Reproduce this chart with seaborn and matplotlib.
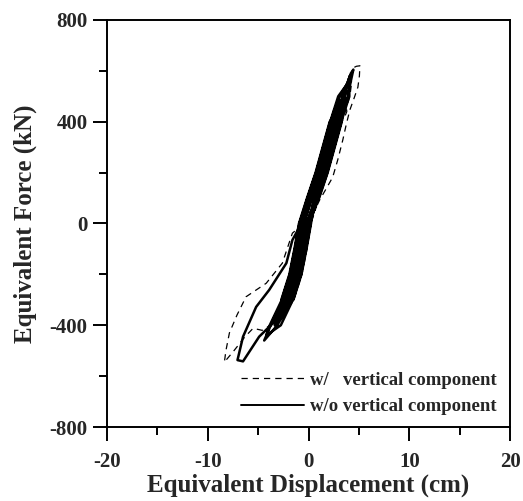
import matplotlib
matplotlib.use("Agg")
import matplotlib.pyplot as plt
import pandas as pd
import seaborn as sns

# hysteresis loop, w/ vertical component (dashed)
disp_w = [0.0, -0.1, 0.8, 1.6, 2.25, 1.2, 0.3, -0.5, -1.0, -1.5, -1.8, -0.9, -0.4, 0.05,
          0.6, 1.1, 1.8, 2.4, 2.9, 3.4, 3.75, 4.1, 4.5, 4.9, 5.05, 5.1, 4.75, 4.4, 4.0, 3.6,
          3.15, 2.8, 2.1, 1.4, 0.55, -0.25, -0.75, -1.25, -2.05, -2.9, -2.2, -1.5, -0.7, -0.2, 0.2,
          1.0, 1.8, 2.55, 3.25, 3.5, 3.8, 3.75, 3.45, 2.6, 1.9, 1.2, 0.35, -0.45, -1.6, -2.6,
          -4.2, -6.2, -7.1, -7.85, -8.2, -8.35, -7.4, -6.3, -5.5, -4.6, -3.6, -2.6, -1.4, -0.7,
          -0.2, 0.2,
          1.0, 1.85, 2.6, 3.3, 3.75, 3.0, 2.5, 1.75, 1.05, 0.2, -0.6, -1.05, -1.6, -2.4, -3.4,
          -2.8, -1.45, -0.65, -0.15, 0.25,
          1.05, 1.9, 2.6, 3.3, 4.1, 4.3, 3.3, 2.1, 1.4, 0.7, -0.15, -0.95, -1.4, -1.9, -2.7,
          -3.0, -1.5, -0.7, -0.2, 0.2,
          0.7, 1.2, 0.6, 0.1, -0.6, -1.0, -0.6, 0.0]
force_w = [0, 0, 100, 200, 300, 200, 100, 0, -100, -200, -250, -200, -100, 0,
           50, 92, 140, 182, 250, 328, 390, 446, 490, 536, 580, 620, 618, 611, 560, 500,
           450, 400, 300, 200, 100, 0, -100, -200, -300, -370, -340, -300, -200, -100, 0,
           100, 200, 300, 400, 410, 440, 458, 430, 400, 300, 200, 100, 0, -38, -156,
           -235, -288, -360, -430, -500, -545, -500, -445, -412, -420, -395, -330, -250, -150,
           -50, 0,
           100, 200, 300, 400, 480, 450, 400, 300, 200, 100, 0, -100, -200, -300, -410,
           -380, -300, -200, -100, 0,
           100, 200, 300, 400, 500, 560, 500, 400, 300, 200, 100, 0, -100, -200, -300,
           -350, -300, -200, -100, 0,
           100, 160, 130, 100, 0, -100, -100, 0]

# hysteresis loop, w/o vertical component (solid)
disp_wo = [0.0, -0.15, 0.65, 1.35, 0.25, -0.55, -1.0, -1.1, -0.6, -0.15,
           0.8, 1.65, 2.35, 2.45, 1.65, 0.95, 0.1, -0.7, -1.15, -1.65, -2.15, -1.45, -0.95, -0.45, 0.0,
           0.95, 1.8, 2.5, 3.2, 3.6, 3.55, 2.6, 2.2, 1.5, 0.8, -0.05, -0.85, -1.3, -1.8, -2.6, -3.2,
           -3.35, -2.7, -1.6, -0.8, -0.3, 0.15,
           0.85, 1.7, 2.4, 3.1, 3.9, 4.2, 4.45, 4.2, 3.9, 3.7, 3.1, 2.3, 1.6, 0.9, 0.05, -0.75,
           -1.2, -1.7, -2.5, -2.75, -2.0, -1.7, -0.9, -0.4, 0.05,
           0.8, 1.65, 2.35, 3.05, 3.2, 2.5, 2.35, 1.65, 0.95, 0.1, -0.7, -1.6, -2.2, -3.9, -5.2,
           -6.5, -7.05, -6.5, -4.9, -3.2, -2.2, -1.6, -0.8, -0.3, 0.15,
           0.75, 1.55, 2.1, 1.05, 0.15, -0.65, -1.1, -1.6, -1.9, -1.0, -0.5, -0.05,
           0.9, 1.75, 2.45, 3.15, 3.95, 3.85, 3.05, 2.25, 1.55, 0.85, 0.0, -0.8, -1.25, -1.75,
           -2.55, -3.75, -4.4, -3.1, -1.65, -0.85, -0.35, 0.1,
           0.7, 1.55, 2.25, 2.9, 2.45, 1.75, 1.05, 0.2, -0.6, -1.05, -1.55, -2.35, -2.2, -1.85,
           -1.05, -0.55, -0.1,
           1.0, 1.85, 2.55, 3.25, 4.05, 4.05, 2.95, 2.15, 1.45, 0.75, -0.1, -0.9, -1.35, -1.85,
           -2.65, -3.85, -4.2, -2.75, -1.55, -0.75, -0.25, 0.2,
           0.55, 1.4, 2.1, 2.8, 3.6, 4.1, 3.4, 2.6, 1.9, 1.2, 0.35, -0.45, -0.9, -1.4, -2.2,
           -3.1, -2.0, -1.2, -0.7, -0.25,
           1.05, 1.9, 2.6, 3.3, 3.45, 2.1, 1.4, 0.7, -0.15, -0.95, -1.4, -1.9, -2.7, -2.6,
           -1.5, -0.7, -0.2, 0.25,
           0.6, 0.7, 0.3, -0.5, -0.95, -0.65, -0.2, 0.0]
force_wo = [0, 0, 100, 200, 100, 0, -100, -150, -100, 0,
            100, 200, 300, 350, 300, 200, 100, 0, -100, -200, -300, -250, -200, -100, 0,
            100, 200, 300, 400, 470, 500, 450, 400, 300, 200, 100, 0, -100, -200, -300, -370,
            -400, -370, -300, -200, -100, 0,
            100, 200, 300, 400, 500, 560, 605, 590, 556, 540, 500, 400, 300, 200, 100, 0,
            -100, -200, -300, -350, -320, -300, -200, -100, 0,
            100, 200, 300, 400, 450, 420, 400, 300, 200, 100, 0, -65, -156, -261, -328,
            -445, -537, -542, -445, -379, -340, -300, -200, -100, 0,
            100, 200, 300, 200, 100, 0, -100, -200, -250, -200, -100, 0,
            100, 200, 300, 400, 500, 520, 500, 400, 300, 200, 100, 0, -100, -200,
            -300, -400, -460, -400, -300, -200, -100, 0,
            100, 200, 300, 410, 400, 300, 200, 100, 0, -100, -200, -300, -310, -300,
            -200, -100, 0,
            100, 200, 300, 400, 500, 560, 500, 400, 300, 200, 100, 0, -100, -200,
            -300, -400, -440, -400, -300, -200, -100, 0,
            100, 200, 300, 400, 500, 580, 500, 400, 300, 200, 100, 0, -100, -200, -300,
            -380, -300, -200, -100, 0,
            100, 200, 300, 400, 480, 400, 300, 200, 100, 0, -100, -200, -300, -320,
            -300, -200, -100, 0,
            100, 120, 100, 0, -100, -100, 0, 0]

x_ticks = [-20, -10, 0, 10, 20]
y_ticks = [-800, -400, 0, 400, 800]

df_w = pd.DataFrame({"disp": disp_w, "force": force_w})
df_wo = pd.DataFrame({"disp": disp_wo, "force": force_wo})

sns.set_style("ticks")
plt.rcParams["font.family"] = ["Liberation Serif", "DejaVu Serif"]
plt.rcParams["font.weight"] = "bold"
plt.rcParams["axes.unicode_minus"] = False

fig = plt.figure(figsize=(5.23, 5.01), dpi=100)
ax = fig.add_axes([0.2046, 0.1477, 0.7706, 0.8124])

sns.lineplot(data=df_w, x="disp", y="force", sort=False, estimator=None, ax=ax,
             color="black", lw=0.9, linestyle=(0, (5, 4)),
             label="w/   vertical component")
sns.lineplot(data=df_wo, x="disp", y="force", sort=False, estimator=None, ax=ax,
             color="black", lw=1.8, label="w/o vertical component")

ax.set_xlim(-20, 20)
ax.set_ylim(-800, 800)
ax.set_xticks(x_ticks)
ax.set_yticks(y_ticks)
ax.set_xticks(range(-15, 20, 10), minor=True)
ax.set_yticks(range(-600, 800, 400), minor=True)
ax.tick_params(which="major", direction="out", length=10, width=1.4,
               labelsize=15, color="black")
ax.tick_params(which="minor", direction="out", length=5.5, width=1.4, color="black")
ax.tick_params(axis="x", pad=8)
ax.tick_params(axis="y", pad=4)
for s in ax.spines.values():
    s.set_linewidth(1.4)
    s.set_color("black")

ax.set_xlabel("Equivalent Displacement (cm)", fontsize=18, fontweight="bold", labelpad=1)
ax.set_ylabel("Equivalent Force (kN)", fontsize=18, fontweight="bold", labelpad=9)

leg = ax.legend(loc="lower right", bbox_to_anchor=(0.985, 0.01), borderaxespad=0,
                frameon=False, fontsize=13.5, handlelength=3.35, handletextpad=0.3,
                labelspacing=0.5)
for h in leg.legend_handles:
    h.set_linewidth(1.4 if h.get_linestyle() == "-" else 0.9)

fig.savefig("out.png", dpi=100)
